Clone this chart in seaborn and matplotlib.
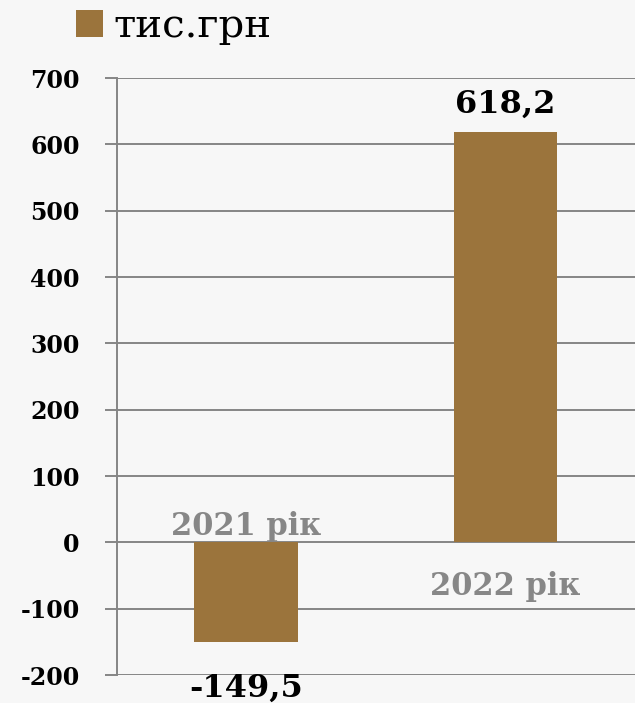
import matplotlib.pyplot as plt
import seaborn as sns
from matplotlib.patches import Patch

# Data
years = ['2021 рік', '2022 рік']
values = [-149.5, 618.2]
value_labels = ['-149,5', '618,2']
y_ticks = [-200, -100, 0, 100, 200, 300, 400, 500, 600, 700]

bar_color = '#9b743c'
grid_color = '#858585'
bg_color = '#f7f7f7'

sns.set_style('white')
plt.rcParams['font.family'] = ['DejaVu Serif', 'DejaVu Sans']

fig = plt.figure(figsize=(6.35, 7.03), dpi=100, facecolor=bg_color)
ax = fig.add_axes([0.1838, 0.0398, 0.8162, 0.8492])
ax.set_facecolor(bg_color)

sns.barplot(x=years, y=values, color=bar_color, width=0.4, saturation=1,
            linewidth=0, ax=ax)

ax.set_xlim(-0.5, 1.5)
ax.set_ylim(-200, 700)
ax.set_yticks(y_ticks)
ax.set_yticklabels([str(t) for t in y_ticks], fontsize=17, fontweight='bold',
                   color='black')
ax.set_xticks([])
ax.set_axisbelow(True)
ax.yaxis.grid(True, color=grid_color, linewidth=1.4)
ax.tick_params(axis='y', left=True, length=8.6, width=1.4, color=grid_color, pad=18)

for side in ['top', 'right', 'bottom']:
    ax.spines[side].set_visible(False)
ax.spines['left'].set_color(grid_color)
ax.spines['left'].set_linewidth(1.4)

# Category labels (near the zero line, on the side away from the bar)
ax.text(0, 11, years[0], ha='center', va='baseline', fontsize=22,
        fontweight='bold', color='#878787')
ax.text(1, -79, years[1], ha='center', va='baseline', fontsize=22,
        fontweight='bold', color='#878787')

# Value labels
ax.text(1, 647, value_labels[1], ha='center', va='baseline', fontsize=23,
        fontweight='bold', color='black')
ax.text(0, -233, value_labels[0], ha='center', va='baseline', fontsize=23,
        fontweight='bold', color='black', clip_on=False)

# Legend
handle = Patch(facecolor=bar_color, edgecolor='none', label='тис.грн')
fig.legend(handles=[handle], loc='upper left', bbox_to_anchor=(0.12, 0.988),
           frameon=False, fontsize=29, handlelength=0.67, handleheight=0.67,
           handletextpad=0.25, borderpad=0, borderaxespad=0, labelcolor='black')

fig.savefig('out.png', dpi=100, facecolor=bg_color)
